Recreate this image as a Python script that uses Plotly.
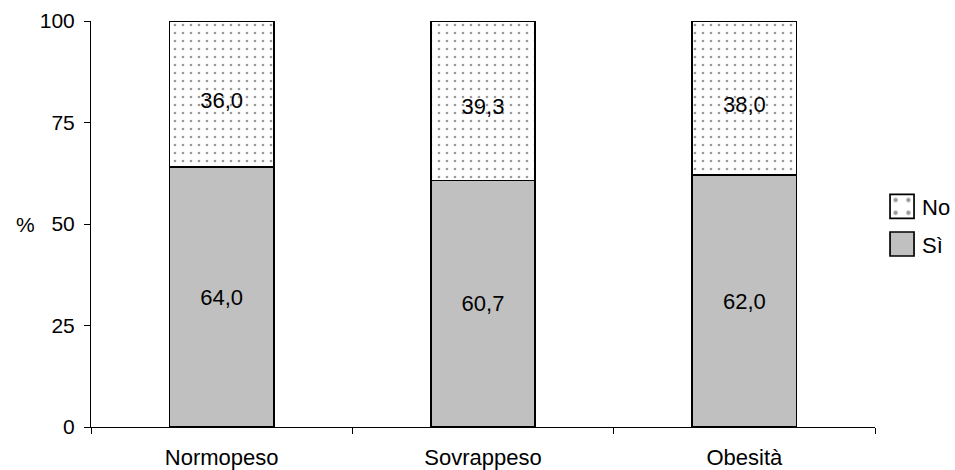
import plotly.graph_objects as go

categories = ["Normopeso", "Sovrappeso", "Obesità"]
si_values = [64.0, 60.7, 62.0]
no_values = [36.0, 39.3, 38.0]
y_ticks = [0, 25, 50, 75, 100]


def fmt(v):
    return f"{v:.1f}".replace(".", ",")


FAMILY = "Liberation Sans, Arial, sans-serif"
font = dict(family=FAMILY, size=22, color="black")
tick_font_y = dict(family=FAMILY, size=21, color="black")

fig = go.Figure()
fig.add_trace(go.Bar(
    x=categories, y=si_values, name="Sì",
    text=[fmt(v) for v in si_values],
    textposition="inside", insidetextanchor="middle",
    textfont=font,
    marker=dict(color="#c0c0c0", line=dict(color="black", width=1.6)),
    width=0.4,
))
fig.add_trace(go.Bar(
    x=categories, y=no_values, name="No",
    text=[fmt(v) for v in no_values],
    textposition="inside", insidetextanchor="middle",
    textfont=font,
    marker=dict(
        color="white",
        line=dict(color="black", width=1.6),
        pattern=dict(shape=".", fgcolor="#333333", bgcolor="white", size=8, solidity=0.09),
    ),
    width=0.4,
))

fig.update_layout(
    barmode="stack",
    width=955, height=470,
    margin=dict(l=91, r=80, t=21, b=43, autoexpand=False),
    paper_bgcolor="white", plot_bgcolor="white",
    font=font,
    showlegend=True,
    legend=dict(
        traceorder="reversed",
        xref="container", yref="container",
        x=0.9236, xanchor="left", y=0.52, yanchor="middle",
        font=dict(family=FAMILY, size=22, color="black"),
        itemwidth=30, tracegroupgap=0,
    ),
    xaxis=dict(
        showline=True, linecolor="black", linewidth=1,
        ticks="outside", ticklen=6, tickcolor="black",
        tickson="boundaries",
        ticklabelstandoff=11,
        showgrid=False, zeroline=False,
        tickfont=font,
        automargin=False,
    ),
    yaxis=dict(
        range=[0, 100],
        tickvals=y_ticks,
        showline=True, linecolor="black", linewidth=1,
        ticks="outside", ticklen=6, tickcolor="black",
        ticklabelstandoff=5,
        showgrid=False, zeroline=False,
        tickfont=tick_font_y,
        automargin=False,
    ),
    annotations=[dict(
        text="%", xref="paper", yref="paper", x=-0.084, y=0.5,
        xanchor="center", yanchor="middle", showarrow=False, font=tick_font_y,
    )],
)

# Enlarge the legend swatches, open a small gap between them, and nudge
# the labels of the upper ("No") segments slightly downwards.
post_js = """
var gd = document.getElementById('{plot_id}');
gd.querySelectorAll('.legend .traces').forEach(function (item) {
    var label = item.querySelector('.legendtext');
    var dy = (label && label.textContent === 'No') ? -3 : 3;
    item.querySelectorAll('.legendpoints path').forEach(function (p) {
        p.setAttribute('transform', 'translate(20,' + dy + ') scale(2.0)');
        p.style.strokeWidth = '0.85px';
    });
    if (label) {
        label.setAttribute('transform', 'translate(0,' + dy + ')');
    }
});
var barTraces = gd.querySelectorAll('.barlayer .trace');
if (barTraces.length > 1) {
    barTraces[1].querySelectorAll('text.bartext').forEach(function (t) {
        var tr = t.getAttribute('transform') || '';
        t.setAttribute('transform', 'translate(0,6) ' + tr);
    });
}
"""

fig.write_html("out.html", post_script=post_js)
